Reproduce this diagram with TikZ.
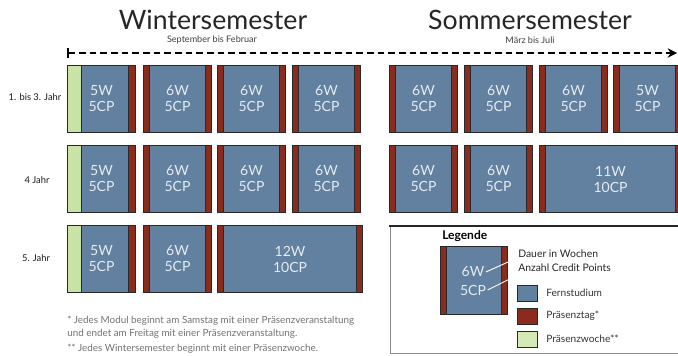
\documentclass[tikz,border=0pt]{standalone}
\usepackage{fontspec}
\setmainfont{Lato}
\usetikzlibrary{arrows.meta}
\definecolor{blueC}{HTML}{62809F}
\definecolor{redC}{HTML}{8B2B1B}
\definecolor{greenC}{HTML}{C9E2A6}
\definecolor{boxtxt}{HTML}{E6ECF2}
\definecolor{outl}{HTML}{262A2E}
\begin{document}
\begin{tikzpicture}[x=0.75pt,y=-0.75pt,
  modbase/.style={draw=outl, line width=0.8pt, fill=blueC, anchor=north west,
    minimum height=50.25pt, inner sep=0pt, align=center, text=boxtxt,
    font=\fontsize{10.5}{12}\selectfont},
  modrr/.style={modbase, minimum width=#1,
    path picture={
      \fill[redC] (path picture bounding box.north west) rectangle ([xshift=4.5pt]path picture bounding box.south west);
      \fill[redC] ([xshift=-4.5pt]path picture bounding box.north east) rectangle (path picture bounding box.south east);
      \draw[outl,line width=0.6pt] ([xshift=4.5pt]path picture bounding box.north west) -- ([xshift=4.5pt]path picture bounding box.south west);
      \draw[outl,line width=0.6pt] ([xshift=-4.5pt]path picture bounding box.north east) -- ([xshift=-4.5pt]path picture bounding box.south east);}},
  modgr/.style={modbase, minimum width=51pt,
    path picture={
      \fill[greenC] (path picture bounding box.north west) rectangle ([xshift=10.5pt]path picture bounding box.south west);
      \fill[redC] ([xshift=-5.5pt]path picture bounding box.north east) rectangle (path picture bounding box.south east);
      \draw[outl,line width=0.6pt] ([xshift=10.5pt]path picture bounding box.north west) -- ([xshift=10.5pt]path picture bounding box.south west);
      \draw[outl,line width=0.6pt] ([xshift=-5.5pt]path picture bounding box.north east) -- ([xshift=-5.5pt]path picture bounding box.south east);}},
  rowlab/.style={font=\fontsize{7}{8}\selectfont, text=black!90},
  foot/.style={font=\fontsize{7.4}{8}\selectfont, text=black!55, anchor=west, inner sep=0pt},
  legtxt/.style={font=\fontsize{7.8}{9}\selectfont, text=black!85, anchor=west, inner sep=0pt},
  swtxt/.style={font=\fontsize{7.6}{9}\selectfont, text=black!80, anchor=west, inner sep=0pt},
  swatch/.style={draw=outl, line width=0.6pt, minimum width=15pt, minimum height=12pt, inner sep=0pt, anchor=north west},
  leader/.style={draw=white, line width=0.7pt}
]
\useasboundingbox[fill=white] (0,0) rectangle (678,356);

% titles
\node[font=\fontsize{20}{22}\selectfont, text=black!85] (tw) at (213,20) {Wintersemester};
\node[font=\fontsize{20}{22}\selectfont, text=black!85] (ts) at (530,20) {Sommersemester};
\node[font=\fontsize{6.8}{8}\selectfont, text=black!75] (sw) at (212,40) {September bis Februar};
\node[font=\fontsize{6.8}{8}\selectfont, text=black!75] (ss) at (530,40) {März bis Juli};

% timeline arrow
\coordinate (as) at (67,53);
\coordinate (ae) at (677,53);
\draw[line width=1.4pt, dash pattern=on 5pt off 3pt, {Bar[width=7pt,line width=1.4pt]}-{Stealth[length=7pt,width=7pt]}] (as) -- (ae);

% row labels
\node[rowlab] (r1) at (35,97) {1. bis 3. Jahr};
\node[rowlab] (r2) at (37,180) {4 Jahr};
\node[rowlab] (r3) at (36,258) {5. Jahr};

% row 1
\node[modgr] (a1) at (67,65) {5W\\5CP};
\node[modrr=51pt] (a2) at (143,65) {6W\\5CP};
\node[modrr=51pt] (a3) at (217,65) {6W\\5CP};
\node[modrr=51pt] (a4) at (292,65) {6W\\5CP};
\node[modrr=51pt] (a5) at (389,65) {6W\\5CP};
\node[modrr=51pt] (a6) at (464,65) {6W\\5CP};
\node[modrr=51pt] (a7) at (539,65) {6W\\5CP};
\node[modrr=51pt] (a8) at (613,65) {5W\\5CP};

% row 2
\node[modgr] (b1) at (67,145) {5W\\5CP};
\node[modrr=51pt] (b2) at (143,145) {6W\\5CP};
\node[modrr=51pt] (b3) at (217,145) {6W\\5CP};
\node[modrr=51pt] (b4) at (292,145) {6W\\5CP};
\node[modrr=51pt] (b5) at (389,145) {6W\\5CP};
\node[modrr=51pt] (b6) at (464,145) {6W\\5CP};
\node[modrr=106.5pt] (b7) at (539,145) {11W\\10CP};

% row 3
\node[modgr] (c1) at (67,225) {5W\\5CP};
\node[modrr=51pt] (c2) at (143,225) {6W\\5CP};
\node[modrr=108.75pt] (c3) at (217,225) {12W\\10CP};

% footnotes
\node[foot] (f1) at (67,321) {* Jedes Modul beginnt am Samstag mit einer Präsenzveranstaltung};
\node[foot] (f2) at (67,334) {und endet am Freitag mit einer Präsenzveranstaltung.};
\node[foot] (f3) at (67,349) {** Jedes Wintersemester beginnt mit einer Präsenzwoche.};

% legend
\draw[draw=black!45, line width=0.5pt] (390,226) -- (390,353) -- (690,353);
\draw[draw=black!85, line width=1.5pt] (389,225.5) -- (690,225.5);
\node[font=\bfseries\fontsize{9}{10}\selectfont, anchor=west, inner sep=0pt] (lg) at (442,236) {Legende};
\node[modrr=50.25pt, minimum height=51pt, text=boxtxt] (lb) at (440,246) {};
\node[font=\fontsize{10.5}{12}\selectfont, text=boxtxt, inner sep=1pt] (lw) at (473,272) {6W};
\node[font=\fontsize{10.5}{12}\selectfont, text=boxtxt, inner sep=1pt] (lc) at (473,290) {5CP};
\node[legtxt] (ld) at (518,254) {Dauer in Wochen};
\node[legtxt] (la) at (518,268) {Anzahl Credit Points};
\draw[leader] (lw.east) -- ([xshift=-1pt]ld.south west);
\draw[leader] (lc.east) -- ([xshift=4pt]la.south west);
\node[swatch, fill=blueC] (s1) at (517,285) {};
\node[swatch, fill=redC] (s2) at (517,308) {};
\node[swatch, fill=greenC!80!white] (s3) at (517,331) {};
\node[swtxt] (t1) at (546,293) {Fernstudium};
\node[swtxt] (t2) at (546,316) {Präsenztag*};
\node[swtxt] (t3) at (546,339) {Präsenzwoche**};
\end{tikzpicture}
\end{document}
